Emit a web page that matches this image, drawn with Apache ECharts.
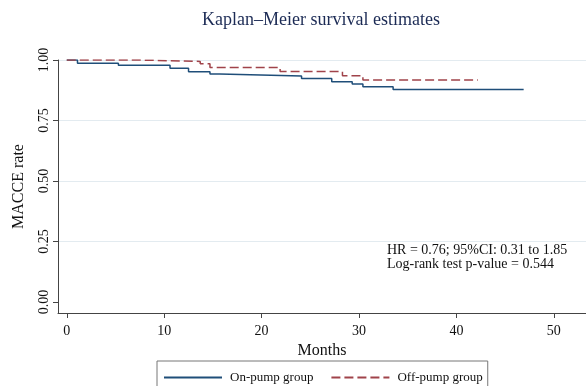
<!DOCTYPE html>
<html>
<head>
<meta charset="utf-8">
<script src="https://cdn.jsdelivr.net/npm/echarts@6/dist/echarts.min.js"></script>
<style>
  html, body { margin: 0; padding: 0; background: #fff; }
  #chart { width: 586px; height: 386px; }
</style>
</head>
<body>
<div id="chart"></div>
<script>
// Kaplan-Meier step points (months, survival)
const onPumpMonths = [0, 1.1, 5.3, 10.6, 12.5, 14.7, 15.7, 24.1, 27.2, 29.3, 30.4, 33.5, 46.9]
const onPumpRate = [1.0, 0.987, 0.978, 0.966, 0.951, 0.942, 0.934, 0.924, 0.910, 0.901, 0.890, 0.878, 0.878]
const offPumpMonths = [0, 7.3, 13.7, 14.7, 21.9, 28.3, 30.4, 42.2]
const offPumpRate = [1.0, 0.994, 0.985, 0.969, 0.952, 0.935, 0.917, 0.917]

const xTicks = [0, 10, 20, 30, 40, 50]
const yTicks = [0, 0.25, 0.5, 0.75, 1.0]
const seriesNames = ['On-pump group', 'Off-pump group']

const serif = '"Liberation Serif", "DejaVu Serif", serif'
const gridColor = '#e3ebf0'

const zip = (xs, ys) => xs.map((x, i) => [x, ys[i]])

const chart = echarts.init(document.getElementById('chart'))

const option = {
  backgroundColor: '#fff',
  animation: false,
  title: {
    text: 'Kaplan\u2013Meier survival estimates',
    left: 202,
    top: 11,
    padding: 0,
    textStyle: {
      fontFamily: serif,
      fontSize: 18,
      fontWeight: 'normal',
      color: '#1c2b55'
    }
  },
  grid: {
    left: 58,
    right: 0,
    top: 60,
    bottom: 73,
    containLabel: false
  },
  xAxis: {
    type: 'value',
    min: -0.9,
    max: 53.3,
    name: 'Months',
    nameLocation: 'middle',
    nameGap: 30,
    nameTextStyle: { fontFamily: serif, fontSize: 16, color: '#111' },
    axisLine: { onZero: false, lineStyle: { color: '#444', width: 1 } },
    axisTick: { customValues: xTicks, length: 5, lineStyle: { color: '#444' } },
    axisLabel: {
      customValues: xTicks,
      margin: 11,
      fontFamily: serif,
      fontSize: 14,
      color: '#111'
    },
    splitLine: { show: false }
  },
  yAxis: {
    type: 'value',
    min: -0.045,
    max: 1.0,
    name: 'MACCE rate',
    nameLocation: 'middle',
    nameGap: 31,
    nameTextStyle: { fontFamily: serif, fontSize: 16, color: '#111' },
    axisLine: { show: true, onZero: false, lineStyle: { color: '#444', width: 1 } },
    axisTick: { show: true, customValues: yTicks, length: 5, lineStyle: { color: '#444' } },
    axisLabel: {
      customValues: yTicks,
      rotate: 90,
      margin: 7,
      fontFamily: serif,
      fontSize: 14,
      color: '#111',
      formatter: v => v.toFixed(2)
    },
    splitLine: {
      show: true,
      lineStyle: { color: ['rgba(0,0,0,0)', gridColor, gridColor, gridColor, gridColor], width: 1 }
    }
  },
  legend: {
    data: seriesNames,
    left: 157,
    top: 361,
    orient: 'horizontal',
    padding: [10, 5, 10, 6],
    itemGap: 17,
    itemWidth: 58,
    itemHeight: 14,
    borderColor: '#777',
    borderWidth: 1,
    itemStyle: { opacity: 0 },
    textStyle: { fontFamily: serif, fontSize: 13, color: '#111', padding: [0, 0, 0, 3] }
  },
  graphic: [
    {
      type: 'text',
      left: 387,
      top: 243,
      style: { text: 'HR = 0.76; 95%CI: 0.31 to 1.85', font: '14px ' + serif, fill: '#111' }
    },
    {
      type: 'text',
      left: 387,
      top: 257,
      style: { text: 'Log-rank test p-value = 0.544', font: '14px ' + serif, fill: '#111' }
    }
  ],
  series: [
    {
      name: seriesNames[0],
      type: 'line',
      step: 'end',
      symbol: 'none',
      data: zip(onPumpMonths, onPumpRate),
      lineStyle: { color: '#1f4e79', width: 1.5 },
      itemStyle: { color: '#1f4e79' }
    },
    {
      name: seriesNames[1],
      type: 'line',
      step: 'end',
      symbol: 'none',
      data: zip(offPumpMonths, offPumpRate),
      lineStyle: { color: '#a0434a', width: 1.5, type: [9, 4] },
      itemStyle: { color: '#a0434a' }
    }
  ]
}

chart.setOption(option)
</script>
</body>
</html>
